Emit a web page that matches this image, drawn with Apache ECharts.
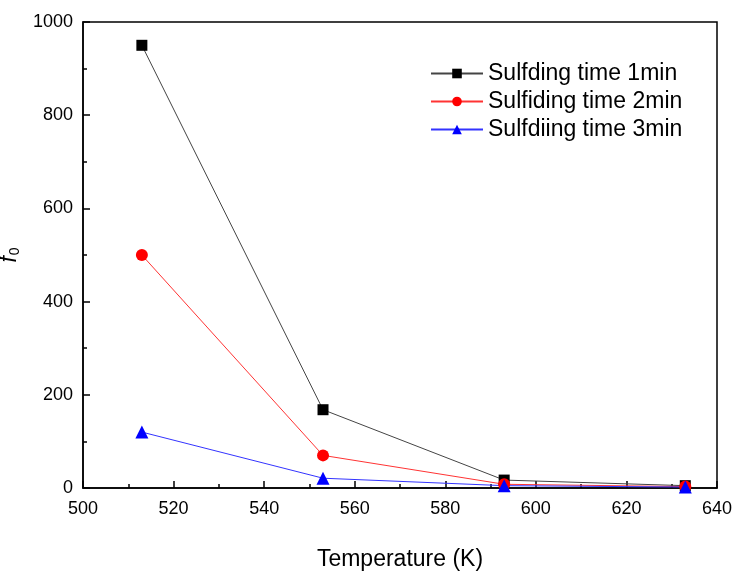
<!DOCTYPE html>
<html><head><meta charset="utf-8">
<script src="https://cdn.jsdelivr.net/npm/echarts@6/dist/echarts.min.js"></script>
<style>html,body{margin:0;padding:0;background:#fff}#c{width:734px;height:573px}</style>
</head><body><div id="c"></div>
<script>
const temps = [513, 553, 593, 633];
const seriesNames = ['Sulfding time 1min', 'Sulfiding time 2min', 'Sulfdiing time 3min'];
const time1 = [950, 168, 17, 5];
const time2 = [500, 70, 8, 3];
const time3 = [120, 21, 5, 2];
const xTicks = [500, 520, 540, 560, 580, 600, 620, 640];
const yTicks = [0, 200, 400, 600, 800, 1000];

const font = 'Liberation Sans, Arial, sans-serif';
const chart = echarts.init(document.getElementById('c'));
function mk(name, vals, color, symbol, size, lineColor) {
  return {
    name, type: 'line', data: temps.map((t, i) => [t, vals[i]]),
    symbol, symbolSize: size,
    itemStyle: { color },
    lineStyle: { color: lineColor, width: 1 },
    emphasis: { disabled: true }, animation: false
  };
}
chart.setOption({
  animation: false,
  grid: { left: 83, right: 17, top: 22, bottom: 85, show: true, borderColor: '#000', borderWidth: 1.5,
          containLabel: false, outerBoundsMode: 'none' },
  legend: {
    top: 57, left: 425, orient: 'vertical', itemWidth: 52, itemHeight: 12, itemGap: 5,
    textStyle: { fontFamily: font, fontSize: 23, color: '#000' },
    data: seriesNames
  },
  xAxis: {
    type: 'value', min: xTicks[0], max: xTicks[xTicks.length - 1], interval: 20,
    name: 'Temperature (K)', nameLocation: 'middle', nameGap: 60,
    nameTextStyle: { fontFamily: font, fontSize: 23, color: '#000' },
    axisLine: { onZero: false, lineStyle: { color: '#000', width: 1.5 } },
    axisTick: { inside: true, length: 7, lineStyle: { color: '#000', width: 1.5 } },
    minorTick: { show: true, splitNumber: 2, length: 4, lineStyle: { color: '#000', width: 1.5 } },
    axisLabel: { fontFamily: font, fontSize: 18, color: '#000', margin: 12 },
    splitLine: { show: false }
  },
  yAxis: {
    type: 'value', min: yTicks[0], max: yTicks[yTicks.length - 1], interval: 200,
    name: '{i|f}{s|0}', nameLocation: 'middle', nameGap: 48, nameRotate: 90,
    nameTextStyle: { rich: {
      i: { fontFamily: font, fontSize: 23, fontStyle: 'italic', color: '#000' },
      s: { fontFamily: font, fontSize: 14, color: '#000', verticalAlign: 'bottom', padding: [10, 0, 0, 1] }
    } },
    axisLine: { lineStyle: { color: '#000', width: 1.5 } },
    axisTick: { inside: true, length: 7, lineStyle: { color: '#000', width: 1.5 } },
    minorTick: { show: true, splitNumber: 2, length: 4, lineStyle: { color: '#000', width: 1.5 } },
    axisLabel: { fontFamily: font, fontSize: 18, color: '#000', margin: 10, formatter: v => String(v) },
    splitLine: { show: false }
  },
  series: [
    mk(seriesNames[0], time1, '#000', 'rect', 11, '#444'),
    mk(seriesNames[1], time2, '#ff0000', 'circle', 12, '#ff3333'),
    mk(seriesNames[2], time3, '#0000ff', 'triangle', 13, '#3333ff')
  ]
});
</script></body></html>
